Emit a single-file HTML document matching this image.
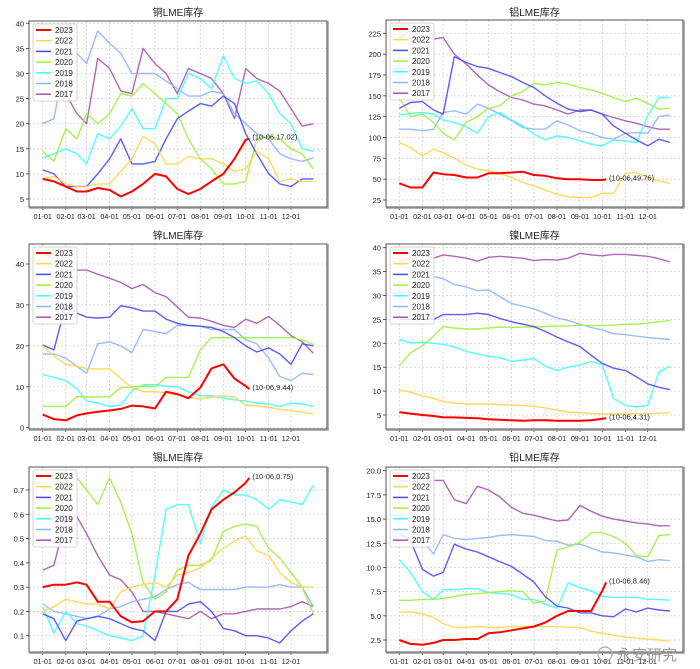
<!DOCTYPE html>
<html><head><meta charset="utf-8"><style>
html,body{margin:0;padding:0;background:#fff;}
svg{display:block;font-family:"Liberation Sans","Noto Sans CJK SC",sans-serif;}
</style></head><body>
<svg id="c" width="700" height="669" viewBox="0 0 700 669"></svg>
<script>
const years = ["2023","2022","2021","2020","2019","2018","2017"];
const colors = ["#ff0000","#ffd54a","#4a4aff","#a0f040","#40ffff","#90b4ff","#a855b0"];
const dates = ["01-01","01-16","02-01","02-16","03-01","03-16","04-01","04-16","05-01","05-16","06-01","06-16","07-01","07-16","08-01","08-16","09-01","09-16","10-01","10-16","11-01","11-16","12-01","12-16","12-31"];
const dates2023 = ["01-01","01-16","02-01","02-16","03-01","03-16","04-01","04-16","05-01","05-16","06-01","06-16","07-01","07-16","08-01","08-16","09-01","09-16","10-01","10-06"];
const monthTicks = ["01-01","02-01","03-01","04-01","05-01","06-01","07-01","08-01","09-01","10-01","11-01","12-01"];
const titles = ["铜LME库存","铝LME库存","锌LME库存","镍LME库存","锡LME库存","铅LME库存"];
const annotations = ["(10-06,17.02)","(10-06,49.76)","(10-06,9.44)","(10-06,4.31)","(10-06,0.75)","(10-06,8.46)"];

const cu2023=[9,8.5,7.5,6.5,6.5,7.2,6.8,5.5,6.5,8,10,9.5,7,6,7,8.5,10,13,16.8,17.02];
const cu2022=[9,9.5,8,7.5,7.5,8,8,10.5,13,17.5,16,12,12,13.5,13,13,12,10.5,11,14.5,13,8.5,9,8.5,8.5];
const cu2021=[10.8,10,7.5,7.5,7.5,10,13,17,12,12,12.5,17,21,22.5,24,23.5,25.5,24,18,14,10,8,7.5,9,9];
const cu2020=[14.5,12.5,19,17,22,20,22,26,25.5,28,26,24,22,17,13,11,8,8,8.5,17,17.5,17,15,14,11];
const cu2019=[13.2,14,15,14,12,18,17,19.5,23,19,19,25,25,30,29,27,33.5,29,28,28.5,26,22,20,15,14.5];
const cu2018=[20,21,33,34,32,38.5,36,34,30,30,30,28.5,27,25.5,25.5,26.5,26,22,20,18,17,14,13,12.5,13.2];
const cu2017=[31,28,26,22,20,33,31,26.5,26,35,32,30,26,31,30,29,26,21,31,29,28,26.5,23,19.5,20];

const al2023=[45,40,40,58,56,55,52,52,57,57,58,59,55,54,51,50,50,49,49,49.76];
const al2022=[94,88,78,86,82,75,67,62,60,57,52,46,42,37,32,29,28,28,33,33,57,58,52,48,45];
const al2021=[135,142,143,133,128,197,190,185,183,178,173,166,160,150,141,134,131,133,128,114,105,97,90,98,94];
const al2020=[148,125,128,118,105,97,118,125,135,138,150,155,165,163,166,164,160,157,153,148,143,147,141,134,135];
const al2019=[127,129,130,128,121,118,113,105,125,130,121,114,104,97,102,100,96,92,90,97,96,94,126,148,148];
const al2018=[110,110,108,110,130,132,128,140,135,128,120,112,110,110,120,115,108,105,100,98,105,106,105,125,127];
const al2017=[220,228,222,218,220,200,188,175,163,155,148,145,140,138,133,128,133,133,128,124,120,117,113,110,110];

const zn2023=[3.2,2.1,1.8,3,3.5,3.9,4.2,4.6,5.4,5.2,4.7,8.8,8.2,7.2,9.8,14.5,15.5,12,10.2,9.44];
const zn2022=[20,17.5,15.5,15,14.5,14.3,14.4,12,9.8,8.8,8.8,8.5,8,7.5,7,7.5,7.8,7.5,5.5,5.3,5,4.5,4.2,3.8,3.3];
const zn2021=[20.2,19,30,28,27,26.8,27,29.8,29.3,28.5,28.5,26.5,25.5,25,24.8,24.5,23.5,22,20,18.5,19.5,18,15.5,20.5,20];
const zn2020=[5.2,5.2,5.2,7.6,7.5,7.5,7.6,9.8,10,10.2,10,12.3,12.3,12.3,19,22,22,22,22,22,22,22,22,21.5,20.3];
const zn2019=[13,12.3,11.5,9.5,6.5,6,5.2,5.5,9,10.5,10.5,10.2,10,8.8,7.8,7.8,7.2,6.8,6.5,6,5.8,5.2,6,5.8,5.2];
const zn2018=[18,18,17,15,13.3,20.5,21,20,18.3,24,23.5,23,25,25,24.8,24,24,24,21.5,20.5,17,12.5,11.5,13.3,13];
const zn2017=[43,41,39.5,38.5,38.5,37.5,36.5,35.5,34,35,33,32,29.5,27,26.8,26,25,24.5,26.5,25.5,27.2,25,22.5,21,18.2];

const ni2023=[5.6,5.3,5,4.8,4.5,4.5,4.4,4.3,4.1,4,3.9,3.8,3.9,3.9,3.8,3.8,3.8,3.9,4.2,4.31];
const ni2022=[10.2,9.8,9,8.5,7.8,7.5,7.3,7.3,7.3,7.2,7.1,7,6.8,6.5,6,5.6,5.5,5.3,5.2,5.2,5.2,5.3,5.3,5.4,5.5];
const ni2021=[25,25,25,25,26,26,26,26.3,26,25.2,24.5,24,23.5,22.5,21.3,20.3,19.3,17.5,15.8,14.8,14.3,13,11.5,10.8,10.3];
const ni2020=[15.3,18,19.5,21.5,23.5,23.2,23,23,23.2,23.4,23.3,23.4,23.4,23.5,23.6,23.6,23.8,23.7,23.7,23.8,24,24,24.2,24.5,24.8];
const ni2019=[20.8,20.1,20.2,20,19.8,19.2,18.3,17.8,17.3,17,16.2,16.5,16.8,15.2,14.3,15,15.5,16.2,15.5,8.5,7,6.7,7,14,15.2];
const ni2018=[36.5,35.5,34.5,34,33.5,32.3,31.8,31,31.2,29.8,28.3,27.8,27.2,26.3,25.3,24.8,24,23.3,22.8,22,21.8,21.5,21.2,21,20.8];
const ni2017=[37.3,37.5,38.5,37.8,38.5,38.2,37.8,37.2,38,38.2,38,37.8,37.3,37.5,37.4,37.8,38.8,38.5,38.3,38.6,38.6,38.4,38.2,37.7,37];

const sn2023=[0.30,0.31,0.31,0.32,0.31,0.24,0.24,0.18,0.155,0.16,0.2,0.2,0.25,0.43,0.52,0.62,0.66,0.69,0.73,0.75];
const sn2022=[0.20,0.22,0.25,0.24,0.23,0.23,0.21,0.28,0.30,0.31,0.32,0.3,0.35,0.36,0.38,0.42,0.46,0.49,0.51,0.45,0.43,0.36,0.32,0.3,0.30];
const sn2021=[0.19,0.17,0.08,0.16,0.17,0.18,0.17,0.15,0.13,0.12,0.08,0.2,0.2,0.23,0.24,0.2,0.13,0.12,0.1,0.1,0.09,0.07,0.12,0.16,0.19];
const sn2020=[0.7,0.72,0.66,0.75,0.7,0.64,0.75,0.65,0.52,0.32,0.25,0.28,0.37,0.39,0.39,0.41,0.53,0.55,0.56,0.55,0.46,0.42,0.36,0.3,0.19];
const sn2019=[0.22,0.11,0.2,0.15,0.14,0.12,0.1,0.09,0.08,0.1,0.35,0.62,0.64,0.64,0.48,0.63,0.7,0.68,0.68,0.66,0.62,0.66,0.65,0.64,0.72];
const sn2018=[0.23,0.2,0.19,0.18,0.17,0.18,0.21,0.22,0.24,0.25,0.26,0.29,0.31,0.32,0.29,0.29,0.29,0.29,0.3,0.3,0.3,0.31,0.3,0.3,0.22];
const sn2017=[0.37,0.39,0.58,0.59,0.52,0.43,0.35,0.33,0.28,0.2,0.2,0.19,0.18,0.17,0.2,0.17,0.19,0.19,0.2,0.21,0.21,0.21,0.22,0.24,0.22];

const pb2023=[2.5,2.1,2.0,2.2,2.5,2.5,2.6,2.6,3.2,3.3,3.5,3.7,3.9,4.3,5.0,5.5,5.5,5.5,7.6,8.46];
const pb2022=[5.4,5.4,5.2,4.8,4.2,3.8,3.8,3.9,3.8,3.8,3.9,3.9,3.9,3.9,3.9,3.8,3.8,3.4,3.2,3.0,2.8,2.7,2.6,2.5,2.4];
const pb2021=[13.5,12.8,9.8,9.1,9.5,12.4,11.9,11.6,11.1,10.6,10.1,9.3,8.5,7.0,6.0,5.8,5.3,5.3,5.0,4.9,5.7,5.4,5.8,5.6,5.5];
const pb2020=[6.6,6.6,6.7,6.7,6.8,7.0,7.2,7.3,7.4,7.5,7.6,7.5,6.3,6.5,11.8,12.1,12.6,13.6,13.6,13.2,12.5,11.2,11.1,13.3,13.4];
const pb2019=[10.8,9.5,7.5,6.7,7.7,7.7,7.8,7.8,7.4,7.3,7.2,6.7,6.7,6.2,5.8,8.4,7.9,7.6,7.0,6.9,6.9,6.9,6.7,6.7,6.6];
const pb2018=[13.2,14.2,12.8,11.4,13.4,13.0,12.9,13.0,13.1,13.3,13.4,13.3,13.2,12.8,12.7,12.3,12.4,12.0,11.6,11.5,11.3,11.1,10.6,10.8,10.7];
const pb2017=[19.0,18.9,18.9,19.0,19.0,17.0,16.6,18.4,18.0,17.3,16.2,15.6,15.4,15.1,14.8,14.9,16.4,15.8,15.3,15.0,14.8,14.6,14.5,14.3,14.3];

const cuTicks=[5,10,15,20,25,30,35,40];
const alTicks=[25,50,75,100,125,150,175,200,225];
const znTicks=[0,10,20,30,40];
const niTicks=[5,10,15,20,25,30,35,40];
const snTicks=[0.1,0.2,0.3,0.4,0.5,0.6,0.7];
const pbTicks=[2.5,5.0,7.5,10.0,12.5,15.0,17.5,20.0];

const seriesSets=[
 [cu2023,cu2022,cu2021,cu2020,cu2019,cu2018,cu2017],
 [al2023,al2022,al2021,al2020,al2019,al2018,al2017],
 [zn2023,zn2022,zn2021,zn2020,zn2019,zn2018,zn2017],
 [ni2023,ni2022,ni2021,ni2020,ni2019,ni2018,ni2017],
 [sn2023,sn2022,sn2021,sn2020,sn2019,sn2018,sn2017],
 [pb2023,pb2022,pb2021,pb2020,pb2019,pb2018,pb2017]];
const tickSets=[cuTicks,alTicks,znTicks,niTicks,snTicks,pbTicks];
const tickFmt=[0,0,0,0,1,1];
const names=["copper","aluminium","zinc","nickel","tin","lead"];

const layouts=[
 {l:29,r:327,t:21,b:207,x0:42.7,x1:291,ya:[40,23.3,5,199],ty:16},
 {l:386,r:683,t:20,b:207,x0:399.3,x1:647.7,ya:[225,33.3,25,200],ty:16},
 {l:29,r:327,t:244,b:429,x0:42.7,x1:291,ya:[40,264,0,427.7],ty:239},
 {l:386,r:683,t:244,b:429,x0:399.3,x1:647.7,ya:[40,247.7,5,415],ty:239},
 {l:29,r:327,t:467,b:652,x0:42.7,x1:291,ya:[0.7,490,0.1,635.7],ty:461},
 {l:386,r:683,t:467,b:652,x0:399.3,x1:647.7,ya:[20,470.7,2.5,640],ty:461}];

const NS="http://www.w3.org/2000/svg";
const svg=document.getElementById('c');
const mStart=[0,31,59,90,120,151,181,212,243,273,304,334];
function dayOf(s){const m=parseInt(s.slice(0,2),10)-1;const d=parseInt(s.slice(3),10)-1;return mStart[m]+d;}
function mk(tag,attrs,parent){const e=document.createElementNS(NS,tag);for(const k in attrs)e.setAttribute(k,attrs[k]);(parent||svg).appendChild(e);return e;}

layouts.forEach((L,p)=>{
  const g=mk('g',{});
  
  
  const xs=d=>L.x0+(d/334)*(L.x1-L.x0);
  const ys=v=>L.ya[1]+(v-L.ya[0])*(L.ya[3]-L.ya[1])/(L.ya[2]-L.ya[0]);
  monthTicks.forEach(t=>{const x=xs(dayOf(t));
    const gl=mk('line',{x1:x,x2:x,y1:L.t,y2:L.b,stroke:'#d0d0d0','stroke-dasharray':'2,2','stroke-width':0.8},g);
    
    
    const tk=mk('line',{x1:x,x2:x,y1:L.b,y2:L.b+3,stroke:'#333','stroke-width':0.8},g);
    
    
    const tl=mk('text',{x:x,y:L.b+12,'font-size':7.2,'text-anchor':'middle',fill:'#222'},g);
    tl.textContent=t;
    
    
  });
  tickSets[p].forEach(v=>{const y=ys(v);
    const gl=mk('line',{x1:L.l,x2:L.r,y1:y,y2:y,stroke:'#d0d0d0','stroke-dasharray':'2,2','stroke-width':0.8},g);
    
    
    const tk=mk('line',{x1:L.l-3,x2:L.l,y1:y,y2:y,stroke:'#333','stroke-width':0.8},g);
    
    
    const tl=mk('text',{x:L.l-5,y:y+3,'font-size':7.5,'text-anchor':'end',fill:'#222'},g);
    tl.textContent=v.toFixed(tickFmt[p]);
    
    
  });
  for(let s=6;s>=0;s--){
    const vals=seriesSets[p][s];
    const ds=s===0?dates2023:dates;
    const pts=vals.map((v,i)=>xs(dayOf(ds[i])).toFixed(1)+','+ys(v).toFixed(1)).join(' ');
    const pl=mk('polyline',{points:pts,fill:'none',stroke:colors[s],'stroke-width':s===0?2:1.4,'stroke-linejoin':'round','stroke-opacity':s===0?1:0.9},g);
    
    
  }
  const v23=seriesSets[p][0];
  const ax=xs(dayOf(dates2023[dates2023.length-1]));
  const ay=ys(v23[v23.length-1]);
  const an=mk('text',{x:ax+3,y:ay+1,'font-size':7.5,fill:'#222'},g);
  an.textContent=annotations[p];
  
  
  const fr=mk('rect',{x:L.l,y:L.t,width:L.r-L.l,height:L.b-L.t,fill:'none',stroke:'#444','stroke-width':0.9},g);
  
  
  const sh=mk('path',{d:`M${L.r+1},${L.t} V${L.b+1} H${L.l}`,fill:'none',stroke:'#999','stroke-width':1.5},g);
  
  
  const tt=mk('text',{x:(L.l+L.r)/2,y:L.ty,'font-size':10,'text-anchor':'middle',fill:'#222'},g);
  tt.textContent=titles[p];
  
  
  const lx=L.l+4, ly=L.t+3;
  const lg=mk('g',{},g);
  
  
  mk('rect',{x:lx,y:ly,width:44,height:77,fill:'#fff','fill-opacity':0.85,stroke:'#ccc','stroke-width':0.8,rx:2},lg);
  years.forEach((yr,i)=>{
    const yy=ly+6+i*10.7;
    const e=mk('g',{},lg);
    
    
    mk('line',{x1:lx+3,x2:lx+18,y1:yy,y2:yy,stroke:colors[i],'stroke-width':i===0?2:1.5},e);
    const t=mk('text',{x:lx+22,y:yy+3,'font-size':8,fill:'#222'},e);
    t.textContent=yr;
  });
});
const wm=mk('text',{x:617,y:660,'font-size':15,fill:'#9a9a9a','font-family':'"Noto Sans CJK SC",sans-serif'});
wm.textContent='永安研究';


const wi=mk('circle',{cx:605,cy:654,r:7,fill:'none',stroke:'#aaa','stroke-width':1.2});


</script>
</body></html>
